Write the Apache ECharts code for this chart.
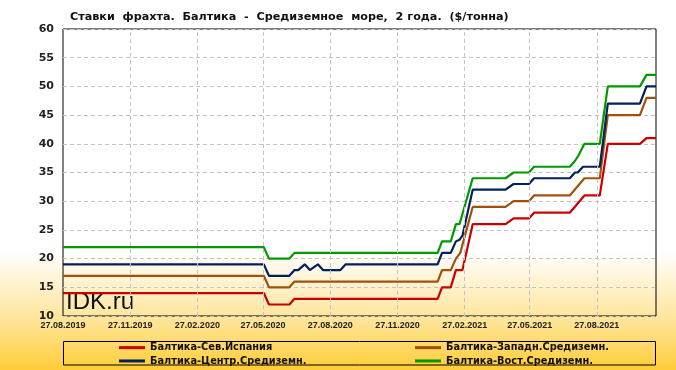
<!DOCTYPE html>
<html>
<head>
<meta charset="utf-8">
<script src="https://cdn.jsdelivr.net/npm/echarts@6/dist/echarts.min.js"></script>
<style>html,body{margin:0;padding:0;background:#fff}#c{width:676px;height:370px}</style>
</head>
<body>
<div id="c"></div>
<script>
const titleText = 'Ставки  фрахта.  Балтика  -  Средиземное  море,  2 года.  ($/тонна)';
const seriesNames = ['Балтика-Сев.Испания', 'Балтика-Западн.Средиземн.', 'Балтика-Центр.Средиземн.', 'Балтика-Вост.Средиземн.'];
const tickDates = ['2019-08-27','2019-11-27','2020-02-27','2020-05-27','2020-08-27','2020-11-27','2021-02-27','2021-05-27','2021-08-27'];
const axisStart = '2019-08-27';
const axisEnd = '2021-11-16';

const sevIspania = [
  ['2019-08-27',14],['2020-05-28',14],['2020-06-04',12],['2020-07-02',12],['2020-07-09',13],
  ['2021-01-21',13],['2021-01-27',15],['2021-02-08',15],['2021-02-15',18],['2021-02-24',18],
  ['2021-03-10',26],['2021-04-24',26],['2021-05-05',27],['2021-05-26',27],['2021-06-02',28],
  ['2021-07-21',28],['2021-08-10',31],['2021-08-31',31],['2021-09-11',40],['2021-10-25',40],
  ['2021-11-03',41],['2021-11-16',41]
];
const zapadSred = [
  ['2019-08-27',17],['2020-05-28',17],['2020-06-04',15],['2020-07-02',15],['2020-07-09',16],
  ['2021-01-21',16],['2021-01-27',18],['2021-02-08',18],['2021-02-15',20],['2021-02-21',21],
  ['2021-03-10',29],['2021-04-24',29],['2021-05-05',30],['2021-05-26',30],['2021-06-02',31],
  ['2021-07-21',31],['2021-08-10',34],['2021-08-31',34],['2021-09-11',45],['2021-10-25',45],
  ['2021-11-03',48],['2021-11-16',48]
];
const centrSred = [
  ['2019-08-27',19],['2020-05-28',19],['2020-06-04',17],['2020-07-02',17],['2020-07-09',18],
  ['2020-07-14',18],['2020-07-23',19],['2020-07-30',18],['2020-08-10',19],['2020-08-17',18],
  ['2020-09-10',18],['2020-09-17',19],['2021-01-21',19],['2021-01-27',21],['2021-02-08',21],
  ['2021-02-15',23],['2021-02-20',23.3],['2021-02-24',24],['2021-03-10',32],['2021-04-24',32],
  ['2021-05-05',33],['2021-05-26',33],['2021-06-02',34],['2021-07-21',34],['2021-07-28',35],
  ['2021-08-01',35],['2021-08-08',36],['2021-08-31',36],['2021-09-11',47],['2021-10-25',47],
  ['2021-11-03',50],['2021-11-16',50]
];
const vostSred = [
  ['2019-08-27',22],['2020-05-28',22],['2020-06-04',20],['2020-07-02',20],['2020-07-09',21],
  ['2021-01-21',21],['2021-01-27',23],['2021-02-08',23],['2021-02-15',26],['2021-02-20',26],
  ['2021-03-10',34],['2021-04-24',34],['2021-05-05',35],['2021-05-26',35],['2021-06-02',36],
  ['2021-07-21',36],['2021-07-28',37],['2021-08-02',38],['2021-08-10',40],['2021-08-31',40],
  ['2021-09-11',50],['2021-10-25',50],['2021-11-03',52],['2021-11-16',52]
];
const seriesColors = ['#C80000', '#A0520C', '#002060', '#009A00'];

function toTs(s) { const p = s.split('-'); return Date.UTC(+p[0], +p[1] - 1, +p[2]); }
function fmt(v) {
  const d = new Date(v);
  const p = n => (n < 10 ? '0' : '') + n;
  return p(d.getUTCDate()) + '.' + p(d.getUTCMonth() + 1) + '.' + d.getUTCFullYear();
}
const tickTs = tickDates.map(toTs);
const allData = [sevIspania, zapadSred, centrSred, vostSred];

const chart = echarts.init(document.getElementById('c'), null, {renderer: 'canvas'});
const gridDash = {color: '#c4c4c4', type: [4, 3], width: 1};
chart.setOption({
  animation: false,
  backgroundColor: {
    type: 'linear', x: 0, y: 0, x2: 0, y2: 1,
    colorStops: [
      {offset: 0, color: '#ffffff'},
      {offset: 0.68, color: '#ffffff'},
      {offset: 0.76, color: '#fff3d2'},
      {offset: 0.87, color: '#ffe496'},
      {offset: 1, color: '#ffcd38'}
    ]
  },
  title: {
    text: titleText, left: 65, top: 7,
    textStyle: {fontFamily: 'DejaVu Sans', fontWeight: 'bold', fontSize: 11.2, color: '#111'}
  },
  grid: {left: 63, right: 20, top: 29, bottom: 54, show: true, borderColor: '#000', borderWidth: 1, backgroundColor: 'transparent'},
  xAxis: {
    type: 'value', min: toTs(axisStart), max: toTs(axisEnd),
    axisLine: {show: false}, axisTick: {show: false, customValues: tickTs},
    splitLine: {show: false},
    axisLabel: {
      customValues: tickTs, margin: 5, showMinLabel: true, hideOverlap: false,
      fontFamily: 'Liberation Sans', fontWeight: 'bold', fontSize: 9, color: '#222',
      formatter: fmt
    }
  },
  yAxis: {
    type: 'value', min: 10, max: 60, interval: 5,
    axisLine: {show: false}, axisTick: {show: false},
    splitLine: {show: true, lineStyle: gridDash},
    axisLabel: {margin: 9, fontFamily: 'DejaVu Sans', fontWeight: 'bold', fontSize: 11, color: '#222'}
  },
  legend: [
    {
      data: [seriesNames[0], seriesNames[2]], orient: 'vertical', left: 119, top: 341,
      itemWidth: 26, itemHeight: 3, itemGap: 0, icon: 'rect', padding: 0,
      textStyle: {fontFamily: 'DejaVu Sans', fontWeight: 'bold', fontSize: 9.8, color: '#111', lineHeight: 13.3}
    },
    {
      data: [seriesNames[1], seriesNames[3]], orient: 'vertical', left: 415, top: 341,
      itemWidth: 26, itemHeight: 3, itemGap: 0, icon: 'rect', padding: 0,
      textStyle: {fontFamily: 'DejaVu Sans', fontWeight: 'bold', fontSize: 9.8, color: '#111', lineHeight: 13.3}
    }
  ],
  graphic: [
    {type: 'rect', shape: {x: 63.5, y: 341.5, width: 592, height: 23.5}, style: {fill: 'none', stroke: '#000', lineWidth: 1}, silent: true},
    {type: 'text', left: 66, top: 290, style: {text: 'IDK.ru', font: '24px "Liberation Sans"', fill: '#111'}, silent: true}
  ],
  series: allData.map((d, i) => ({
    name: seriesNames[i], type: 'line', showSymbol: false, symbol: 'none',
    data: d.map(p => [toTs(p[0]), p[1]]),
    color: seriesColors[i],
    lineStyle: {width: 2.2, color: seriesColors[i]},
    markLine: i === 0 ? {
      silent: true, symbol: 'none', label: {show: false},
      lineStyle: gridDash, emphasis: {disabled: true},
      data: tickTs.slice(1).map(t => ({xAxis: t}))
    } : undefined
  }))
});
</script>
</body>
</html>
